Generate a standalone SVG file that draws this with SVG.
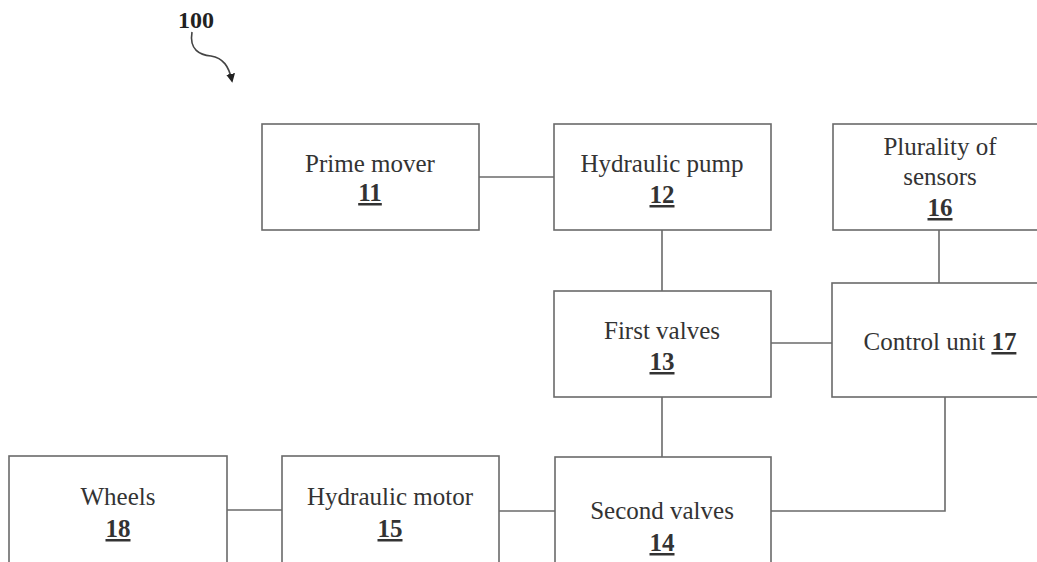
<svg xmlns="http://www.w3.org/2000/svg" width="1037" height="562" viewBox="0 0 1037 562">
<style>
.box{fill:#fff;stroke:#6a6a6a;stroke-width:1.6}
.ln{fill:none;stroke:#6a6a6a;stroke-width:1.6}
text{font-family:"Liberation Serif","Times New Roman",serif;font-size:25px;fill:#333;text-anchor:middle}
.n{font-weight:bold;text-decoration:underline}
</style>
<defs>
<marker id="ah" viewBox="0 0 10 10" refX="8" refY="5" markerWidth="9" markerHeight="9" orient="auto" markerUnits="userSpaceOnUse">
<path d="M0,0 L10,5 L0,10 z" fill="#222"/>
</marker>
</defs>
<rect width="1037" height="562" fill="#fff"/>
<g id="ref100">
<text x="196" y="28" style="font-size:24px;font-weight:bold;fill:#222">100</text>
<path d="M192,32 C189,50 200,55 211,56 C223,58 229,66 232,81" fill="none" stroke="#444" stroke-width="1.6" marker-end="url(#ah)"/>
</g>
<g id="connectors">
<path class="ln" d="M479,177 H554"/>
<path class="ln" d="M662,230 V291"/>
<path class="ln" d="M939,230 V283"/>
<path class="ln" d="M771,343 H832"/>
<path class="ln" d="M662,397 V457"/>
<path class="ln" d="M227,510 H282"/>
<path class="ln" d="M499,511 H555"/>
<path class="ln" d="M771,511 H945 V397"/>
</g>
<g id="n11"><rect class="box" x="262" y="124" width="217" height="106"/>
<text x="370" y="172">Prime mover</text><text class="n" x="370" y="201">11</text></g>
<g id="n12"><rect class="box" x="554" y="124" width="217" height="106"/>
<text x="662" y="172">Hydraulic pump</text><text class="n" x="662" y="203">12</text></g>
<g id="n16"><rect class="box" x="833" y="124" width="217" height="106"/>
<text x="940" y="155">Plurality of</text><text x="940" y="185">sensors</text><text class="n" x="940" y="216">16</text></g>
<g id="n13"><rect class="box" x="554" y="291" width="217" height="106"/>
<text x="662" y="339">First valves</text><text class="n" x="662" y="370">13</text></g>
<g id="n17"><rect class="box" x="832" y="283" width="217" height="114"/>
<text x="940" y="350">Control unit <tspan class="n">17</tspan></text></g>
<g id="n18"><rect class="box" x="9" y="456" width="218" height="120"/>
<text x="118" y="505">Wheels</text><text class="n" x="118" y="537">18</text></g>
<g id="n15"><rect class="box" x="282" y="456" width="217" height="120"/>
<text x="390" y="505">Hydraulic motor</text><text class="n" x="390" y="537">15</text></g>
<g id="n14"><rect class="box" x="555" y="457" width="216" height="120"/>
<text x="662" y="519">Second valves</text><text class="n" x="662" y="551">14</text></g>
</svg>
